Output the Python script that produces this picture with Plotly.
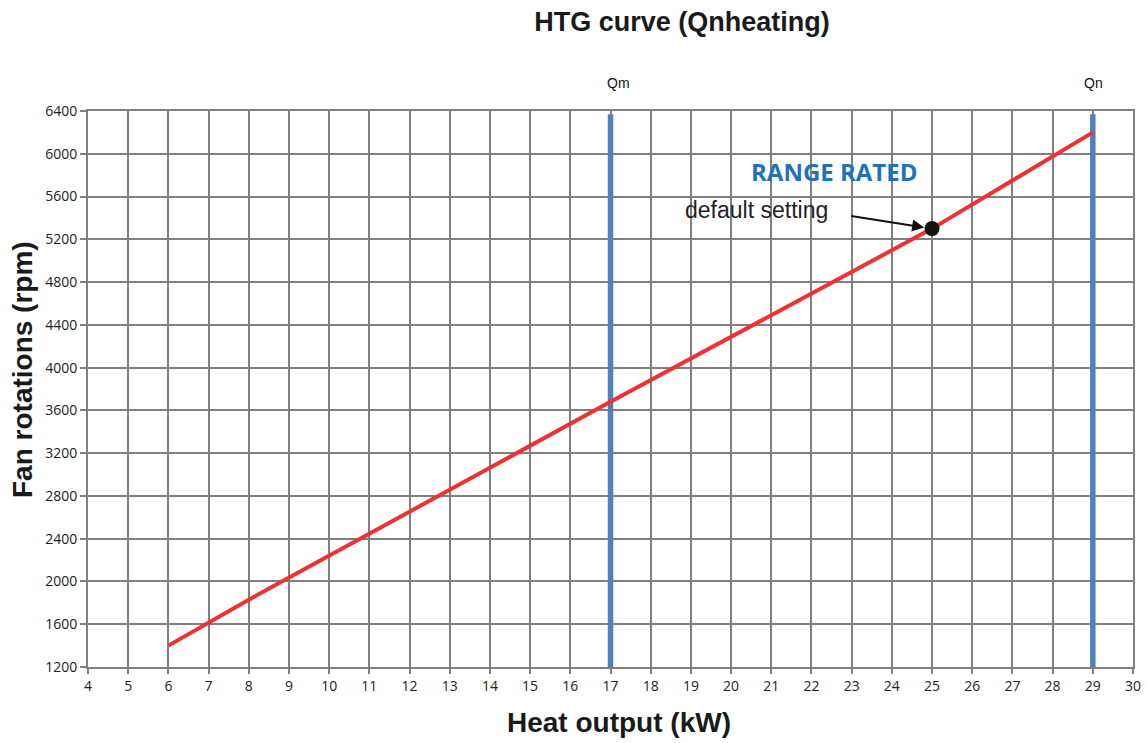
import plotly.graph_objects as go

# Heating curve: heat output (kW) vs fan speed (rpm)
heat_kw = [6, 8, 17, 25, 29]
fan_rpm = [1400, 1830, 3680, 5300, 6200]

# Reference limits
limit_names = ["Qm", "Qn"]
limit_kw = [17, 29]

# Default setting point
default_kw = [25]
default_rpm = [5300]

x_ticks = list(range(4, 31))
y_ticks = list(range(1200, 6401, 400))

GRID = "#808080"
BLUE = "#4F81BD"
W, H = 1147, 743
L, R, T, B = 88, 14, 111, 76

fig = go.Figure()

for name, q in zip(limit_names, limit_kw):
    fig.add_trace(go.Scatter(
        x=[q, q], y=[1200, 6370], mode="lines",
        line=dict(color=BLUE, width=5.5), showlegend=False, hoverinfo="skip"))

label_shift = {"Qm": 8, "Qn": 1}
for name, q in zip(limit_names, limit_kw):
    fig.add_annotation(
        x=q, y=1.05, xref="x", yref="paper", text=name, showarrow=False,
        xshift=label_shift[name], yanchor="middle",
        font=dict(family="Liberation Sans, Arial", size=14, color="#111111"))

fig.add_trace(go.Scatter(
    x=heat_kw, y=fan_rpm, mode="lines",
    line=dict(color="#EE3131", width=4), showlegend=False))

fig.add_trace(go.Scatter(
    x=default_kw, y=default_rpm, mode="markers",
    marker=dict(color="#111111", size=15), showlegend=False))

fig.add_annotation(
    x=22.55, y=5830, text="<b>RANGE RATED</b>", showarrow=False,
    font=dict(family="Open Sans, Lato", size=24, color="#1F72BA"))
fig.add_annotation(
    x=20.64, y=5470, text="default setting", showarrow=False,
    font=dict(family="Liberation Sans, Arial", size=23, color="#222222"))
fig.add_annotation(
    x=default_kw[0], y=default_rpm[0], ax=22.95, ay=5420,
    xref="x", yref="y", axref="x", ayref="y", text="",
    showarrow=True, arrowhead=2, arrowsize=1.2, arrowwidth=2,
    arrowcolor="#111111", standoff=8)

# Axis titles placed as annotations in pixel-relative paper units
pw, ph = W - L - R, H - T - B
fig.add_annotation(
    x=(619 - L) / pw, y=-(722 - (H - B)) / ph, xref="paper", yref="paper",
    text="<b>Heat output (kW)</b>", showarrow=False, xanchor="center", yanchor="middle",
    font=dict(family="Liberation Sans, Arial", size=28, color="#1a1a1a"))
fig.add_annotation(
    x=-(L - 22) / pw, y=((H - B) - 370) / ph, xref="paper", yref="paper",
    text="<b>Fan rotations (rpm)</b>", showarrow=False, textangle=-90,
    xanchor="center", yanchor="middle",
    font=dict(family="Liberation Sans, Arial", size=28, color="#1a1a1a"))

axis_common = dict(
    showgrid=True, gridcolor=GRID, gridwidth=2,
    showline=True, linecolor=GRID, linewidth=2, mirror=True,
    ticks="outside", tickwidth=2, tickcolor=GRID,
    zeroline=False, automargin=False,
    tickfont=dict(family="Open Sans", size=14, color="#222222"),
)

fig.update_layout(
    width=W, height=H,
    margin=dict(l=L, r=R, t=T, b=B, autoexpand=False),
    paper_bgcolor="white", plot_bgcolor="white",
    title=dict(text="<b>HTG curve (Qnheating)</b>", x=682 / W, xanchor="center",
               y=1 - 22 / H, yanchor="middle",
               font=dict(family="Liberation Sans, Arial", size=27, color="#1a1a1a")),
    xaxis=dict(range=[4, 30], tickvals=x_ticks, ticktext=[str(v) for v in x_ticks],
               ticklen=5, **axis_common),
    yaxis=dict(range=[1200, 6400], tickvals=y_ticks, ticktext=[str(v) for v in y_ticks],
               ticklen=6, **axis_common),
)

fig.write_html("out.html")
